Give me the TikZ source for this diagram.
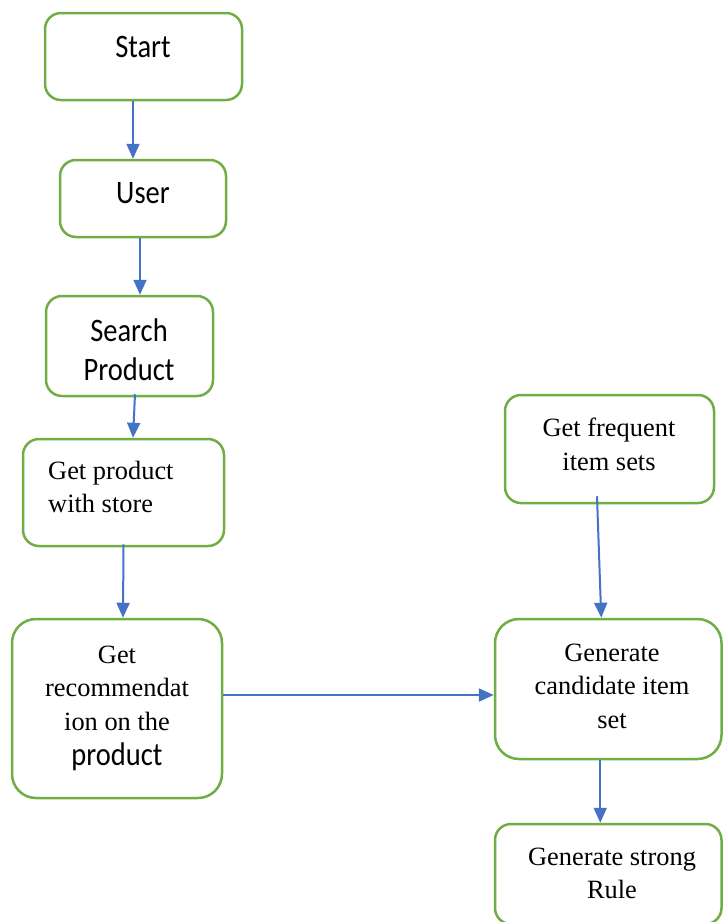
\documentclass[tikz,border=0pt]{standalone}
\usepackage{fontspec}
\usepackage{graphicx}
\setmainfont{Liberation Serif}
\newfontfamily\calib{Carlito}
\usetikzlibrary{arrows.meta}
\definecolor{boxgreen}{HTML}{70AD47}
\definecolor{arrblue}{HTML}{4472C4}
\newcommand{\talltxt}[1]{\scalebox{1}[1.15]{#1}}
\begin{document}
\begin{tikzpicture}[x=1pt,y=-1pt,
 box/.style={draw=boxgreen,line width=2.5pt,rounded corners=16pt,fill=white,inner sep=0pt},
 bigbox/.style={box,rounded corners=24pt},
 conn/.style={draw=arrblue,line width=2pt,-{Triangle[width=13pt,length=15pt]}},
 sanstxt/.style={font=\calib\fontsize{28.5}{39}\selectfont,align=center,inner sep=0pt},
 seriftxt/.style={font=\fontsize{26.4}{33.5}\selectfont,align=center,inner sep=0pt}]
\path[use as bounding box, clip] (0,0) rectangle (723,922);
% boxes
\node[box, minimum width=197pt, minimum height=87pt] (start) at (143.5,56.5) {};
\node[box, minimum width=166pt, minimum height=77pt] (user) at (143,198.5) {};
\node[box, minimum width=167pt, minimum height=100pt] (search) at (129.5,346) {};
\node[box, minimum width=201pt, minimum height=107pt] (getprod) at (123.5,492.5) {};
\node[bigbox, minimum width=210pt, minimum height=179pt] (rec) at (117,708.5) {};
\node[box, minimum width=209pt, minimum height=108pt] (freq) at (609.5,449) {};
\node[bigbox, minimum width=226.5pt, minimum height=140pt] (cand) at (608.25,689) {};
\node[box, minimum width=226.5pt, minimum height=100pt] (strong) at (608.25,874) {};
% texts
\node[sanstxt] (tstart) at (143,46.5) {\talltxt{Start}};
\node[sanstxt] (tuser) at (143,193) {\talltxt{User}};
\node[sanstxt] (tsearch) at (129,330) {\talltxt{Search}};
\node[sanstxt] (tsearch2) at (129,369.5) {\talltxt{Product}};
\node[seriftxt, align=left, anchor=west] (tgetprod) at (48,487) {Get product\\with store};
\node[seriftxt] (trec) at (117,688) {Get\\recommendat\\ion on the};
\node[sanstxt] (trec2) at (117,757) {\talltxt{product}};
\node[seriftxt] (tfreq) at (609,444.5) {Get frequent\\item sets};
\node[seriftxt] (tcand) at (612,686) {Generate\\candidate item\\set};
\node[seriftxt] (tstrong) at (612,873.5) {Generate strong\\Rule};
% connectors
\draw[conn] ([xshift=-10.5pt]start.south) -- ([xshift=-10pt]user.north);
\draw[conn] ([xshift=-3pt]user.south) -- ([xshift=10.5pt]search.north);
\draw[conn] ([xshift=5.5pt,yshift=3pt]search.south) -- ([xshift=9.5pt]getprod.north);
\draw[conn] ([yshift=3pt]getprod.south) -- ([xshift=6pt]rec.north);
\draw[conn] ([yshift=13.5pt]rec.east) -- ([yshift=-6pt]cand.west);
\draw[conn] ([xshift=-12.5pt,yshift=8pt]freq.south) -- ([xshift=-7pt]cand.north);
\draw[conn] ([xshift=-8pt]cand.south) -- ([xshift=-8pt]strong.north);
\end{tikzpicture}
\end{document}
